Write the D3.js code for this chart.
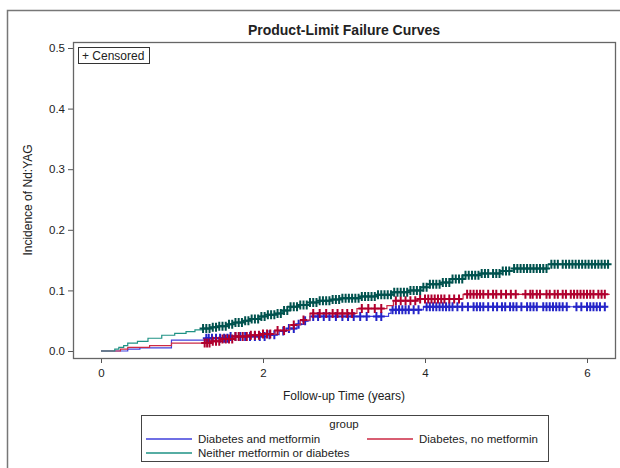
<!DOCTYPE html>
<html>
<head>
<meta charset="utf-8">
<script src="https://cdn.jsdelivr.net/npm/d3@7"></script>
<style>
  body { margin: 0; background: #fff; }
  text { font-family: "Liberation Sans", Arial, sans-serif; fill: #222; }
</style>
</head>
<body>
<script>
// chart size (matches the reference window)
const width = 620, height = 468;

// group names and colours
const groups = ["Diabetes and metformin", "Diabetes, no metformin", "Neither metformin or diabetes"];
const lineColors = ["#4040dc", "#cc2a44", "#1f9285"];
const markColors = ["#2424c8", "#b0002e", "#00524e"];

// step curves: [time in years, cumulative incidence]
const stepsMetformin = [
  [0, 0], [0.33, 0.003], [0.48, 0.005], [0.87, 0.018], [1.3, 0.021], [1.6, 0.024],
  [2.05, 0.027], [2.2, 0.033], [2.29, 0.037], [2.42, 0.044], [2.5, 0.050], [2.58, 0.057],
  [3.55, 0.062], [3.58, 0.068], [3.98, 0.073], [6.24, 0.073]
];
const stepsNoMetformin = [
  [0, 0], [0.24, 0.003], [0.33, 0.006], [0.6, 0.009], [0.87, 0.013], [1.38, 0.016],
  [1.5, 0.020], [1.65, 0.024], [1.85, 0.026], [2.0, 0.028], [2.15, 0.034], [2.33, 0.043],
  [2.46, 0.051], [2.58, 0.062], [3.16, 0.070], [3.53, 0.075], [3.61, 0.083], [3.9, 0.086],
  [4.47, 0.0935], [6.28, 0.0935]
];
const stepsNeither = [
  [0, 0], [0.17, 0.003], [0.22, 0.006], [0.28, 0.009], [0.33, 0.013], [0.45, 0.016],
  [0.58, 0.021], [0.75, 0.026], [0.91, 0.029], [1.05, 0.032], [1.16, 0.035], [1.26, 0.037],
  [1.36, 0.039], [1.46, 0.041], [1.56, 0.044], [1.66, 0.047], [1.76, 0.050], [1.86, 0.053],
  [1.96, 0.057], [2.06, 0.060], [2.15, 0.062], [2.24, 0.067], [2.33, 0.073], [2.45, 0.076],
  [2.58, 0.080], [2.7, 0.083], [2.83, 0.085], [2.95, 0.087], [3.2, 0.090], [3.4, 0.093],
  [3.6, 0.097], [3.81, 0.100], [3.95, 0.105], [4.06, 0.110], [4.19, 0.113], [4.31, 0.119],
  [4.47, 0.125], [4.68, 0.128], [4.93, 0.132], [5.09, 0.136], [5.52, 0.143], [6.28, 0.143]
];

// censored times for each group
const censMetformin = [
  1.30, 1.33, 1.37, 1.42, 1.47, 1.52, 1.56, 1.60, 1.66, 1.72, 1.78, 1.84, 1.90, 1.96,
  2.02, 2.08, 2.14, 2.25, 2.32, 2.38, 2.44, 2.52, 2.62, 2.68, 2.75, 2.82, 2.90, 2.98,
  3.05, 3.12, 3.20, 3.28, 3.40, 3.46, 3.60, 3.64, 3.68, 3.72, 3.76, 3.80, 3.86, 3.92,
  4.02, 4.06, 4.10, 4.14, 4.18, 4.22, 4.26, 4.30, 4.34, 4.40, 4.46, 4.53, 4.60, 4.64,
  4.68, 4.72, 4.78, 4.84, 4.89, 4.95, 4.99, 5.05, 5.09, 5.13, 5.19, 5.26, 5.30, 5.34,
  5.38, 5.46, 5.50, 5.54, 5.58, 5.62, 5.66, 5.70, 5.75, 5.87, 5.93, 6.00, 6.04, 6.08,
  6.12, 6.16, 6.22
];
const censNoMetformin = [
  1.28, 1.31, 1.34, 1.38, 1.42, 1.46, 1.50, 1.54, 1.58, 1.62, 1.66, 1.70, 1.75, 1.80,
  1.85, 1.90, 1.95, 2.00, 2.05, 2.09, 2.18, 2.26, 2.38, 2.50, 2.62, 2.70, 2.78, 2.86,
  2.92, 2.98, 3.04, 3.10, 3.22, 3.30, 3.38, 3.46, 3.64, 3.70, 3.76, 3.82, 3.88, 3.94,
  4.00, 4.04, 4.08, 4.12, 4.16, 4.20, 4.24, 4.30, 4.36, 4.42, 4.52, 4.56, 4.60, 4.64,
  4.68, 4.72, 4.78, 4.84, 4.88, 4.94, 5.00, 5.06, 5.12, 5.24, 5.30, 5.33, 5.38, 5.42,
  5.50, 5.54, 5.60, 5.64, 5.70, 5.74, 5.80, 5.84, 5.88, 5.92, 5.96, 6.00, 6.04, 6.08,
  6.14, 6.18, 6.22
];
const censNeither = [
  1.26, 1.30, 1.34, 1.38, 1.42, 1.46, 1.50, 1.54, 1.58, 1.62, 1.66, 1.70, 1.74, 1.78,
  1.82, 1.86, 1.90, 1.94, 1.98, 2.02, 2.06, 2.10, 2.14, 2.18, 2.22, 2.26, 2.30, 2.34,
  2.38, 2.42, 2.46, 2.50, 2.54, 2.58, 2.62, 2.66, 2.70, 2.74, 2.78, 2.82, 2.86, 2.90,
  2.94, 2.98, 3.02, 3.06, 3.10, 3.14, 3.18, 3.22, 3.26, 3.30, 3.34, 3.38, 3.42, 3.46,
  3.50, 3.54, 3.58, 3.62, 3.66, 3.70, 3.74, 3.78, 3.82, 3.86, 3.90, 3.94, 3.98, 4.02,
  4.06, 4.10, 4.14, 4.18, 4.22, 4.26, 4.30, 4.34, 4.38, 4.42, 4.46, 4.50, 4.54, 4.58,
  4.62, 4.66, 4.70, 4.74, 4.78, 4.84, 4.88, 4.92, 4.96, 5.00, 5.04, 5.10, 5.14, 5.18,
  5.22, 5.26, 5.30, 5.34, 5.38, 5.42, 5.46, 5.50, 5.56, 5.60, 5.64, 5.70, 5.74, 5.78,
  5.82, 5.86, 5.90, 5.94, 5.98, 6.02, 6.06, 6.10, 6.14, 6.18, 6.22, 6.26
];

// axis ticks
const xTicks = [0, 2, 4, 6];
const yTicks = [0, 0.1, 0.2, 0.3, 0.4, 0.5];

const series = [
  { name: groups[0], steps: stepsMetformin, cens: censMetformin, line: lineColors[0], mark: markColors[0] },
  { name: groups[1], steps: stepsNoMetformin, cens: censNoMetformin, line: lineColors[1], mark: markColors[1] },
  { name: groups[2], steps: stepsNeither, cens: censNeither, line: lineColors[2], mark: markColors[2] }
];

const svg = d3.select("body").append("svg")
  .attr("width", width)
  .attr("height", height);

// outer page border (only left and top show in the window)
svg.append("rect")
  .attr("x", 7.5).attr("y", 10.5)
  .attr("width", 700).attr("height", 600)
  .attr("fill", "none").attr("stroke", "#777").attr("stroke-width", 1.5);

// plot frame
const frame = { left: 73, right: 615, top: 42, bottom: 358 };

const xScale = d3.scaleLinear().domain([0, 6]).range([101, 587]);
const yScale = d3.scaleLinear().domain([0, 0.5]).range([351, 48]);

svg.append("text")
  .attr("x", 344).attr("y", 35)
  .attr("text-anchor", "middle")
  .style("font-size", "14px").style("font-weight", "bold")
  .text("Product-Limit Failure Curves");

// axes
const xAxis = svg.append("g")
  .attr("transform", `translate(0,${frame.bottom})`)
  .call(d3.axisBottom(xScale).tickValues(xTicks).tickFormat(d3.format("d")).tickSize(5).tickSizeOuter(0));
const yAxis = svg.append("g")
  .attr("transform", `translate(${frame.left},0)`)
  .call(d3.axisLeft(yScale).tickValues(yTicks).tickFormat(d3.format(".1f")).tickSize(5).tickSizeOuter(0));

[xAxis, yAxis].forEach(g => {
  g.select(".domain").remove();
  g.selectAll("line").attr("stroke", "#555");
  g.selectAll("text").style("font-size", "11.5px").attr("fill", "#222")
    .style("font-family", "'Liberation Sans', Arial, sans-serif");
});
xAxis.selectAll("text").attr("dy", "0.95em");

svg.append("text")
  .attr("x", 344).attr("y", 400)
  .attr("text-anchor", "middle")
  .style("font-size", "12px")
  .text("Follow-up Time (years)");

svg.append("text")
  .attr("transform", "translate(32,200) rotate(-90)")
  .attr("text-anchor", "middle")
  .style("font-size", "12px")
  .text("Incidence of Nd:YAG");

// step value at time t
function valueAt(steps, t) {
  let v = 0;
  steps.forEach(s => { if (s[0] <= t) v = s[1]; });
  return v;
}

const stepLine = d3.line()
  .x(d => xScale(d[0]))
  .y(d => yScale(d[1]))
  .curve(d3.curveStepAfter);

const plot = svg.append("g");

series.forEach(s => {
  plot.append("path")
    .attr("d", stepLine(s.steps))
    .attr("fill", "none")
    .attr("stroke", s.line)
    .attr("stroke-width", 1.2);

  plot.selectAll(null)
    .data(s.cens)
    .enter().append("path")
    .attr("transform", d => `translate(${xScale(d)},${yScale(valueAt(s.steps, d))})`)
    .attr("d", "M-3.5,0H3.5M0,-4.5V4.5")
    .attr("stroke", s.mark)
    .attr("stroke-width", 2)
    .attr("fill", "none");
});

svg.append("rect")
  .attr("x", frame.left + 0.5).attr("y", frame.top + 0.5)
  .attr("width", frame.right - frame.left).attr("height", frame.bottom - frame.top)
  .attr("fill", "none").attr("stroke", "#666").attr("stroke-width", 1.3);

// censored inset
svg.append("rect")
  .attr("x", 78.5).attr("y", 47.5).attr("width", 71).attr("height", 16)
  .attr("fill", "#fff").attr("stroke", "#333");
svg.append("text")
  .attr("x", 82).attr("y", 60)
  .style("font-size", "12px")
  .text("+ Censored");

// legend
const legend = svg.append("g");
legend.append("rect")
  .attr("x", 141.5).attr("y", 415.5).attr("width", 407).attr("height", 46)
  .attr("fill", "#fff").attr("stroke", "#444");
legend.append("text")
  .attr("x", 344).attr("y", 428)
  .attr("text-anchor", "middle")
  .style("font-size", "11.5px")
  .text("group");

const legendPos = [[146, 439], [367, 439], [146, 453]];
series.forEach((s, i) => {
  const [lx, ly] = legendPos[i];
  legend.append("rect")
    .attr("x", lx).attr("y", ly - 0.75)
    .attr("width", 46).attr("height", 1.5)
    .attr("fill", s.line);
  legend.append("text")
    .attr("x", lx + 52).attr("y", ly + 4)
    .style("font-size", "11.5px")
    .text(s.name);
});
</script>
</body>
</html>
